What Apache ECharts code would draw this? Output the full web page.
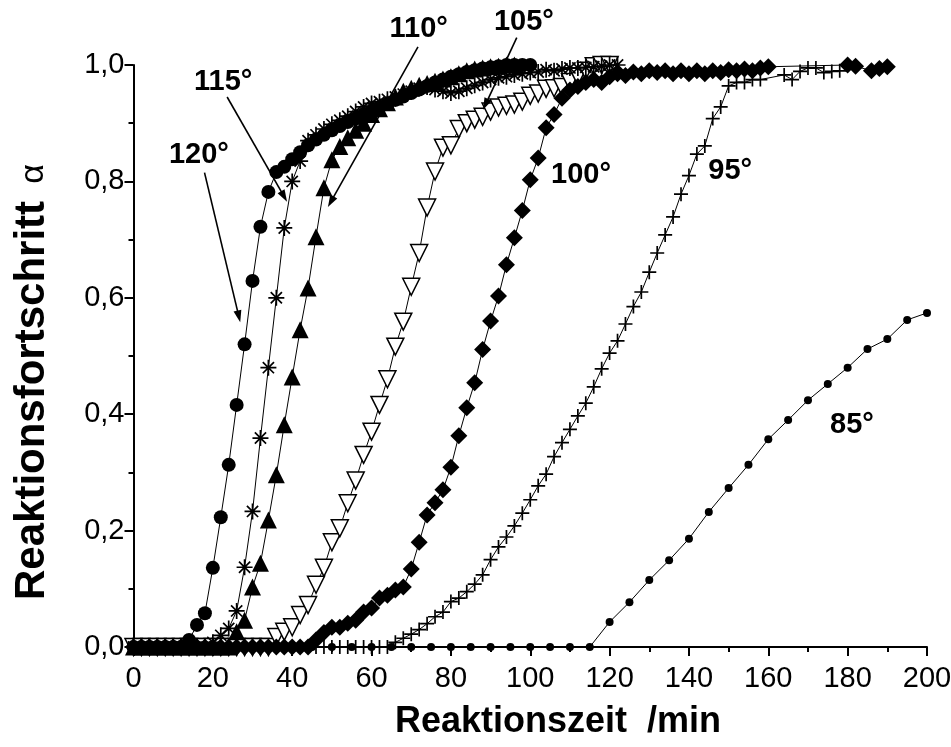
<!DOCTYPE html>
<html>
<head>
<meta charset="utf-8">
<script src="https://cdn.jsdelivr.net/npm/echarts@6/dist/echarts.min.js"></script>
<style>
	html, body { margin: 0; padding: 0; background: #fff; }
	#chart { width: 951px; height: 747px; }
</style>
</head>
<body>
<div id="chart"></div>
<script>
// Reaktionszeit (min) and Reaktionsfortschritt per temperature
var t120 = [0,2,4,6,8,10,12,14,16,18,20,22,24,26,28,30,32,34,36,38,40,42,44,46,48,50,52,54,56,58,60,62,64,66,68,70,72,74,76,78,80,82,84,86,88,90,92,94,96,98,100];
var a120 = [0,0,0,0,0,0,0,0.012,0.038,0.058,0.136,0.223,0.313,0.416,0.52,0.629,0.722,0.782,0.816,0.825,0.838,0.85,0.862,0.872,0.88,0.888,0.895,0.902,0.908,0.915,0.921,0.927,0.933,0.94,0.946,0.952,0.958,0.964,0.97,0.975,0.98,0.984,0.988,0.991,0.994,0.996,0.998,1.0,1.0,1.0,1.0];

var t115 = [0,2,4,6,8,10,12,14,16,18,20,22,24,26,28,30,32,34,36,38,40,42,44,46,48,50,52,54,56,58,60,62,64,66,68,70,72,74,76,78,80,82,84,86,88,90,92,94,96,98,100,102,104,106,108,110,112,114,116,118,120,122];
var a115 = [0,0,0,0,0,0,0,0,0,0,0.008,0.02,0.032,0.062,0.137,0.233,0.359,0.48,0.6,0.72,0.8,0.835,0.87,0.88,0.89,0.898,0.905,0.912,0.92,0.928,0.934,0.937,0.941,0.945,0.95,0.955,0.96,0.962,0.958,0.955,0.952,0.955,0.96,0.965,0.97,0.975,0.978,0.98,0.983,0.985,0.987,0.988,0.992,0.99,0.993,0.995,0.995,0.996,0.997,0.998,1.0,1.0];

var t110 = [0,2,4,6,8,10,12,14,16,18,20,22,24,26,28,30,32,34,36,38,40,42,44,46,48,50,52,54,56,58,60,62,64,66,68,70,72,74,76,78,80,82,84,86,88,90,92,94,96];
var a110 = [0,0,0,0,0,0,0,0,0,0,0,0,0,0.026,0.046,0.103,0.144,0.218,0.296,0.382,0.464,0.545,0.617,0.705,0.789,0.837,0.86,0.875,0.888,0.9,0.915,0.925,0.935,0.945,0.955,0.96,0.965,0.968,0.972,0.976,0.98,0.985,0.99,0.993,0.995,0.997,0.998,1.0,1.0];

var t105 = [0,2,4,6,8,10,12,14,16,18,20,22,24,26,28,30,32,34,36,38,40,42,44,46,48,50,52,54,56,58,60,62,64,66,68,70,72,74,76,78,80,82,84,86,88,90,92,94,96,98,100,102,104,106,108,110,112,114,116,118,120];
var a105 = [0,0,0,0,0,0,0,0,0,0,0,0,0,0,0,0,0,0,0.017,0.026,0.034,0.055,0.072,0.107,0.136,0.18,0.204,0.247,0.286,0.33,0.37,0.416,0.46,0.516,0.559,0.619,0.677,0.755,0.817,0.858,0.862,0.89,0.9,0.906,0.911,0.92,0.927,0.93,0.932,0.937,0.947,0.951,0.959,0.96,0.962,0.971,0.98,0.99,0.998,1.0,1.0];

var t100 = [0,2,4,6,8,10,12,14,16,18,20,22,24,26,28,30,32,34,36,38,40,42,44,46,48,50,52,54,56,58,60,62,64,66,68,70,72,74,76,78,80,82,84,86,88,90,92,94,96,98,100,102,104,106,108,110,112,114,116,118,120,122,124,126,128,130,132,134,136,138,140,142,144,146,148,150,152,154,156,158,160,180,182,186,188,190];
var a100 = [0,0,0,0,0,0,0,0,0,0,0,0,0,0,0,0,0,0,0,0,0,0,0,0.012,0.025,0.034,0.034,0.041,0.046,0.06,0.067,0.084,0.089,0.098,0.103,0.134,0.18,0.227,0.248,0.27,0.309,0.363,0.411,0.454,0.511,0.56,0.603,0.657,0.703,0.75,0.803,0.84,0.892,0.915,0.943,0.957,0.963,0.97,0.975,0.97,0.98,0.985,0.982,0.988,0.985,0.99,0.987,0.99,0.985,0.99,0.985,0.99,0.985,0.99,0.987,0.992,0.99,0.993,0.99,0.995,0.997,1.0,0.998,0.99,0.994,0.997];

var t95 = [0,2,4,6,8,10,12,14,16,18,20,22,24,26,28,30,32,34,36,38,40,42,44,46,48,50,52,54,56,58,60,62,64,66,68,70,72,74,76,78,80,82,84,86,88,90,92,94,96,98,100,102,104,106,108,110,112,114,116,118,120,122,124,126,128,130,132,134,136,138,140,142,144,146,148,150,152,154,156,158,164,166,168,170,172,174,176,178];
var a95 = [0,0,0,0,0,0,0,0,0,0,0,0,0,0,0,0,0,0,0,0,0,0,0,0,0,0,0,0,0,0,0,0,0,0.008,0.015,0.022,0.03,0.04,0.052,0.06,0.078,0.084,0.095,0.108,0.124,0.15,0.172,0.189,0.208,0.23,0.253,0.277,0.297,0.327,0.351,0.374,0.397,0.419,0.447,0.478,0.505,0.526,0.555,0.585,0.61,0.644,0.677,0.708,0.739,0.778,0.81,0.847,0.861,0.908,0.928,0.964,0.97,0.97,0.975,0.975,0.983,0.975,0.989,0.995,0.995,0.987,0.989,0.99];

var t85 = [0,5,10,15,20,25,30,35,40,45,50,55,60,65,70,75,80,85,90,95,100,105,110,115,120,125,130,135,140,145,150,155,160,165,170,175,180,185,190,195,200];
var a85 = [0,0,0,0,0,0,0,0,0,0,0,0,0,0,0,0,0,0,0,0,0,0,0,0,0.043,0.077,0.115,0.149,0.186,0.232,0.273,0.313,0.357,0.39,0.424,0.452,0.48,0.512,0.529,0.562,0.574];

var xTicks = [0, 20, 40, 60, 80, 100, 120, 140, 160, 180, 200];
var yTicks = [0, 0.2, 0.4, 0.6, 0.8, 1.0];

// temperature labels [text, x, y] in data units
var tempLabels = [
	['120°', 16.5, 0.846],
	['115°', 22.6, 0.971],
	['110°', 71.9, 1.062],
	['105°', 98.4, 1.074],
	['100°', 112.8, 0.811],
	['95°', 150.4, 0.818],
	['85°', 181.1, 0.382]
];
// arrows [x1, y1, x2, y2] in data units, head at (x2, y2)
var arrows = [
	[17.9, 0.815, 26.9, 0.558],
	[23.6, 0.945, 38.7, 0.765],
	[71.7, 1.031, 49.0, 0.756],
	[96.6, 1.047, 88.1, 0.923]
];

var FONT = 'Liberation Sans, Arial, sans-serif';

function zip(ts, as) {
	var out = [], i;
	for (i = 0; i < ts.length; i++)
		out.push([ts[i], as[i]]);
	return out;
}

function mkSeries(name, ts, as, symbol, size, itemStyle, rotate) {
	return {
		name: name,
		type: 'line',
		data: zip(ts, as),
		symbol: symbol,
		symbolSize: size,
		symbolRotate: rotate || 0,
		showSymbol: true,
		showAllSymbol: true,
		clip: false,
		lineStyle: { color: '#000', width: 1 },
		itemStyle: itemStyle,
		emphasis: { disabled: true }
	};
}

var filled = { color: '#000', borderWidth: 0 };
var stroked = { color: 'transparent', borderColor: '#000', borderWidth: 1.7 };
var openTri = { color: '#fff', borderColor: '#000', borderWidth: 1.5 };

var asterisk = 'path://M5,0L5,10M0,5L10,5M1.5,1.5L8.5,8.5M1.5,8.5L8.5,1.5';
var plus = 'path://M5,0L5,10M0,5L10,5';

var chart = echarts.init(document.getElementById('chart'), null, { renderer: 'canvas' });

var axisCommon = {
	axisLine: { show: true, onZero: false, lineStyle: { color: '#000', width: 2 } },
	axisTick: { show: true, inside: false, length: 9, lineStyle: { color: '#000', width: 2 } },
	minorTick: { show: true, splitNumber: 2, length: 5, lineStyle: { color: '#000', width: 2 } },
	splitLine: { show: false },
	minorSplitLine: { show: false }
};

var option = {
	animation: false,
	backgroundColor: '#fff',
	grid: { left: 133.5, right: 24, top: 65, bottom: 100, containLabel: false, outerBoundsMode: 'none' },
	xAxis: Object.assign({
		type: 'value',
		min: xTicks[0],
		max: xTicks[xTicks.length - 1],
		interval: xTicks[1] - xTicks[0],
		axisLabel: { color: '#000', fontSize: 29, fontFamily: FONT, margin: 17 }
	}, axisCommon),
	yAxis: Object.assign({
		type: 'value',
		min: yTicks[0],
		max: yTicks[yTicks.length - 1],
		interval: yTicks[1] - yTicks[0],
		axisLabel: {
			color: '#000', fontSize: 29, fontFamily: FONT, margin: 9,
			formatter: function(v) { return v.toFixed(1).replace('.', ','); }
		}
	}, axisCommon),
	series: [
		mkSeries('85°', t85, a85, 'circle', 8, filled),
		mkSeries('95°', t95, a95, plus, 14, stroked),
		mkSeries('105°', t105, a105, 'triangle', 17, openTri, 180),
		mkSeries('110°', t110, a110, 'triangle', 17, filled),
		mkSeries('115°', t115, a115, asterisk, 16, stroked),
		mkSeries('120°', t120, a120, 'circle', 14, filled),
		mkSeries('100°', t100, a100, 'diamond', 17, filled)
	]
};

chart.setOption(option);

// annotations: axis titles, temperature labels and arrows
var graphics = [], i, p, q, dx, dy, len, ux, uy, hl = 12, hw = 4;

graphics.push({
	type: 'text',
	x: 558,
	y: 722,
	style: {
		text: 'Reaktionszeit  /min',
		fill: '#000',
		font: 'bold 36px ' + FONT,
		align: 'center',
		verticalAlign: 'middle'
	}
});
// y title, read bottom to top: bold part anchored at its start, alpha separately
graphics.push({
	type: 'text',
	x: 32,
	y: 600,
	rotation: Math.PI / 2,
	style: {
		text: 'Reaktionsfortschritt',
		fill: '#000',
		font: 'bold 42px ' + FONT,
		align: 'left',
		verticalAlign: 'middle'
	}
});
graphics.push({
	type: 'text',
	x: 34,
	y: 174,
	rotation: Math.PI / 2,
	style: {
		text: 'α',
		fill: '#000',
		font: '34px ' + FONT,
		align: 'center',
		verticalAlign: 'middle'
	}
});

for (i = 0; i < tempLabels.length; i++)
{
	p = chart.convertToPixel({ gridIndex: 0 }, [tempLabels[i][1], tempLabels[i][2]]);
	graphics.push({
		type: 'text',
		x: p[0],
		y: p[1],
		z: 100,
		style: {
			text: tempLabels[i][0],
			fill: '#000',
			font: 'bold 29px ' + FONT,
			align: 'center',
			verticalAlign: 'middle'
		}
	});
}

for (i = 0; i < arrows.length; i++)
{
	p = chart.convertToPixel({ gridIndex: 0 }, [arrows[i][0], arrows[i][1]]);
	q = chart.convertToPixel({ gridIndex: 0 }, [arrows[i][2], arrows[i][3]]);
	dx = q[0] - p[0];
	dy = q[1] - p[1];
	len = Math.sqrt(dx * dx + dy * dy);
	ux = dx / len;
	uy = dy / len;
	graphics.push({
		type: 'line',
		z: 100,
		shape: { x1: p[0], y1: p[1], x2: q[0] - ux * hl * 0.8, y2: q[1] - uy * hl * 0.8 },
		style: { stroke: '#000', lineWidth: 1.6 }
	});
	graphics.push({
		type: 'polygon',
		z: 100,
		shape: {
			points: [
				[q[0], q[1]],
				[q[0] - ux * hl - uy * hw, q[1] - uy * hl + ux * hw],
				[q[0] - ux * hl + uy * hw, q[1] - uy * hl - ux * hw]
			]
		},
		style: { fill: '#000' }
	});
}

chart.setOption({ graphic: graphics });
</script>
</body>
</html>
